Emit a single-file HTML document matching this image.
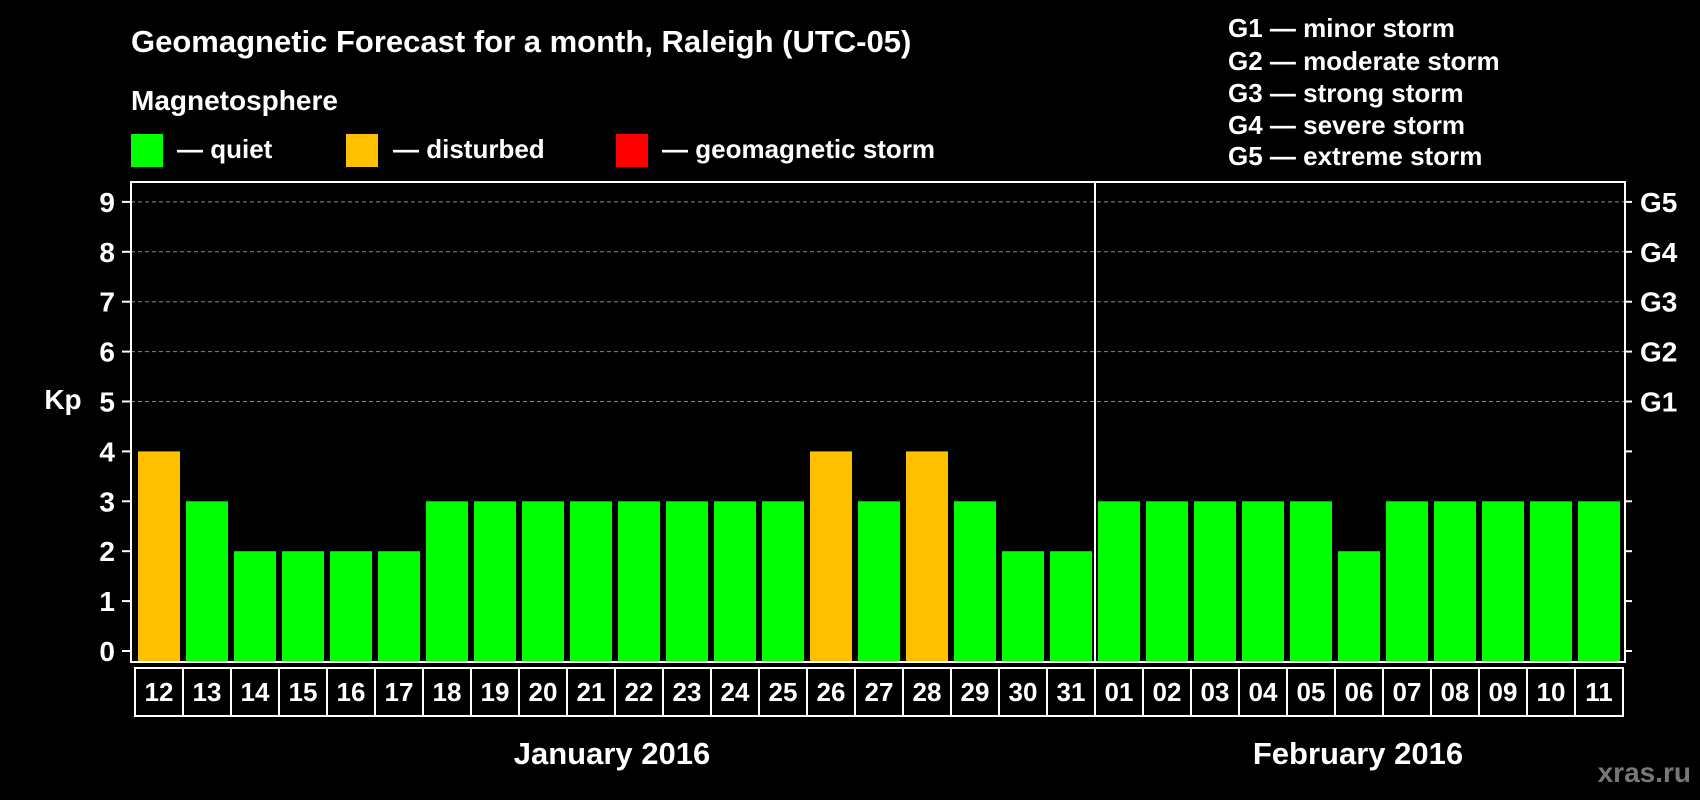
<!DOCTYPE html>
<html><head><meta charset="utf-8"><style>
body{margin:0;background:#000;width:1700px;height:800px;overflow:hidden}
svg{display:block}
text{font-family:"Liberation Sans",Arial,sans-serif;font-weight:bold;fill:#fff}
</style></head><body>
<svg id="chart" width="1700" height="800">
<text x="131" y="52" font-size="31">Geomagnetic Forecast for a month, Raleigh (UTC-05)</text>
<text x="131" y="110" font-size="28">Magnetosphere</text>
<rect x="131" y="134" width="32" height="33" fill="#00ff00"/>
<text x="177" y="158" font-size="26">— quiet</text>
<rect x="346" y="134" width="32" height="33" fill="#ffc000"/>
<text x="393" y="158" font-size="26">— disturbed</text>
<rect x="616" y="134" width="32" height="33" fill="#ff0000"/>
<text x="662" y="158" font-size="26">— geomagnetic storm</text>
<g font-size="26">
<text x="1228" y="37">G1 — minor storm</text>
<text x="1228" y="70">G2 — moderate storm</text>
<text x="1228" y="102">G3 — strong storm</text>
<text x="1228" y="134">G4 — severe storm</text>
<text x="1228" y="165">G5 — extreme storm</text>
</g>
<text x="63" y="409" font-size="28" text-anchor="middle">Kp</text>
<g id="plot"></g>
<text x="612" y="764" font-size="31" text-anchor="middle">January 2016</text>
<text x="1358" y="764" font-size="31" text-anchor="middle">February 2016</text>
<text x="1691" y="782" font-size="28" text-anchor="end" style="fill:#777">xras.ru</text>
</svg>
<script>
const days=["12","13","14","15","16","17","18","19","20","21","22","23","24","25","26","27","28","29","30","31","01","02","03","04","05","06","07","08","09","10","11"];
const kp=[4,3,2,2,2,2,3,3,3,3,3,3,3,3,4,3,4,3,2,2,3,3,3,3,3,2,3,3,3,3,3];
const yTicks=[0,1,2,3,4,5,6,7,8,9];
const gLabels=["G1","G2","G3","G4","G5"];
const NS="http://www.w3.org/2000/svg";
const g=document.getElementById('plot');
const X0=138,PITCH=48,BW=42,Y0=651,UNIT=49.9,PT=182,PB=662;
const xs=i=>X0+i*PITCH;
const ys=v=>Y0-v*UNIT;
function mk(t,a){const e=document.createElementNS(NS,t);for(const k in a)e.setAttribute(k,a[k]);g.appendChild(e);return e;}
const color=v=>v>=5?"#ff0000":(v>=4?"#ffc000":"#00ff00");
yTicks.forEach(v=>{
  if(v>=5){const l=mk('line',{x1:131,x2:1625,y1:ys(v),y2:ys(v),stroke:'#888','stroke-width':1,'stroke-dasharray':'4 3'});
  
  }
  const t1=mk('line',{x1:122,x2:131,y1:ys(v),y2:ys(v),stroke:'#fff','stroke-width':2});
  
  
  const t2=mk('line',{x1:1625,x2:1632,y1:ys(v),y2:ys(v),stroke:'#fff','stroke-width':2});
  
  
  const tx=mk('text',{x:115,y:ys(v)+10,'font-size':28,'text-anchor':'end'});tx.textContent=v;
  
  
});
gLabels.forEach((s,i)=>{
  const t=mk('text',{x:1640,y:ys(5+i)+10,'font-size':28});t.textContent=s;
  
  
});
kp.forEach((v,i)=>{
  const r=mk('rect',{x:xs(i),y:ys(v),width:BW,height:PB-ys(v),fill:color(v)});
  
  
  const c=mk('rect',{x:xs(i)-3,y:668,width:PITCH,height:48,fill:'none',stroke:'#fff','stroke-width':2});
  
  
  const t=mk('text',{x:xs(i)+BW/2,y:701,'font-size':26,'text-anchor':'middle'});t.textContent=days[i];
  
  
});
const fr=mk('rect',{x:131,y:PT,width:1494,height:PB-PT,fill:'none',stroke:'#fff','stroke-width':2});


const dv=mk('line',{x1:xs(20)-3,x2:xs(20)-3,y1:PT,y2:PB,stroke:'#fff','stroke-width':2});


</script>
</body></html>
